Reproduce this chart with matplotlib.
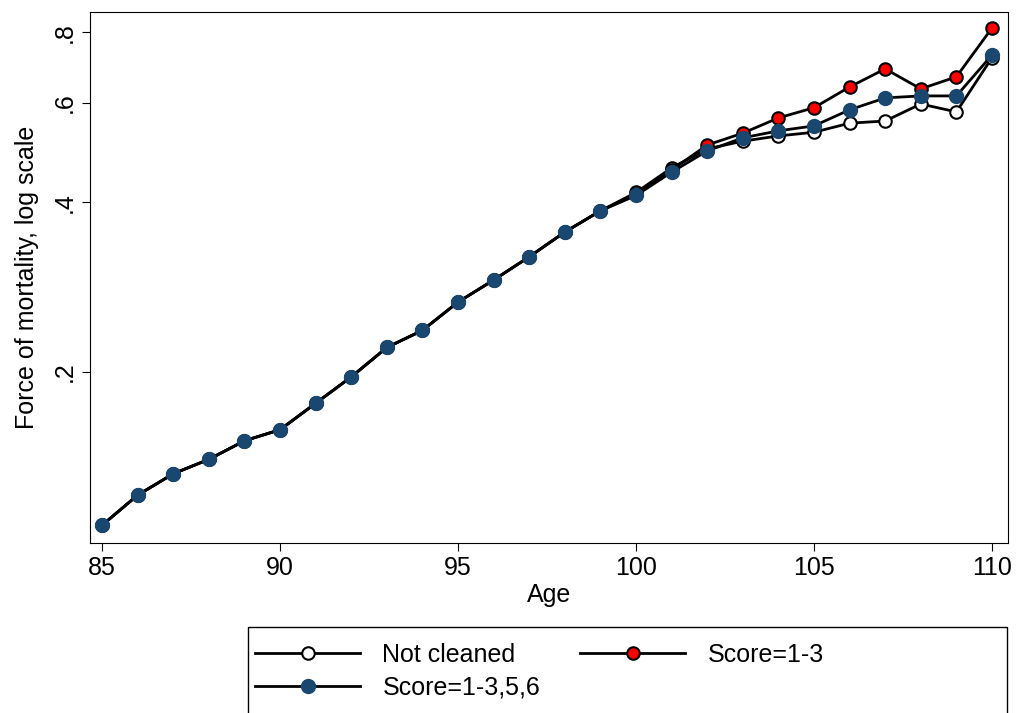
import matplotlib.pyplot as plt
from matplotlib.patches import Rectangle
from matplotlib.ticker import FixedLocator, NullLocator

age = list(range(85, 111))
common = [0.107, 0.121, 0.132, 0.140, 0.151, 0.158, 0.176, 0.196, 0.221, 0.237,
          0.266, 0.291, 0.320, 0.354, 0.386]
not_cleaned = common + [0.416, 0.460, 0.497, 0.513, 0.524, 0.532, 0.552, 0.557, 0.597, 0.578, 0.721]
score13 = common + [0.413, 0.456, 0.505, 0.530, 0.564, 0.588, 0.640, 0.689, 0.635, 0.667, 0.814]
score1356 = common + [0.411, 0.452, 0.493, 0.520, 0.535, 0.546, 0.583, 0.612, 0.617, 0.617, 0.729]

plt.rcParams["font.family"] = "Liberation Sans"
fig = plt.figure(figsize=(10.2, 7.13), dpi=100)
ax = fig.add_axes([90 / 1020, 1 - 543 / 713, 918 / 1020, 531 / 713])

kw = dict(color="black", linewidth=2, markersize=9, markeredgecolor="black", markeredgewidth=1.5)
h1, = ax.plot(age, not_cleaned, marker="o", markerfacecolor="white", label="Not cleaned", **kw)
h2, = ax.plot(age, score13, marker="o", markerfacecolor="red", label="Score=1-3", **kw)
h3, = ax.plot(age, score1356, marker="o", markerfacecolor="#1a476f", label="Score=1-3,5,6",
              color="black", linewidth=2, markersize=10, markeredgecolor="#1a476f")

ax.set_yscale("log")
ax.set_ylim(0.0995, 0.869)
ax.set_xlim(84.66, 110.45)
ax.yaxis.set_major_locator(FixedLocator([0.2, 0.4, 0.6, 0.8]))
ax.yaxis.set_minor_locator(NullLocator())
ax.set_yticklabels([".2", ".4", ".6", ".8"], rotation=90, va="center")
ax.set_xticks([85, 90, 95, 100, 105, 110])
ax.tick_params(labelsize=18, length=6)
ax.set_xlabel("Age", fontsize=18, labelpad=2)
ax.set_ylabel("Force of mortality, log scale", fontsize=18, labelpad=10)

# legend frame drawn by hand, running off the bottom edge like the original
fig.patches.append(Rectangle((248 / 1020, -0.01), 759 / 1020, 1 - 627 / 713 + 0.01,
                             transform=fig.transFigure, fill=False, edgecolor="black", linewidth=1))
fig.legend([h1, h3, h2], ["Not cleaned", "Score=1-3,5,6", "Score=1-3"],
           loc="upper left", bbox_to_anchor=(255 / 1020, 1 - 643 / 713),
           ncol=2, fontsize=18, frameon=False, handlelength=4.2, borderaxespad=0,
           borderpad=0, labelspacing=0.35, columnspacing=1.6, handletextpad=0.9)

fig.savefig("out.png", dpi=100)
